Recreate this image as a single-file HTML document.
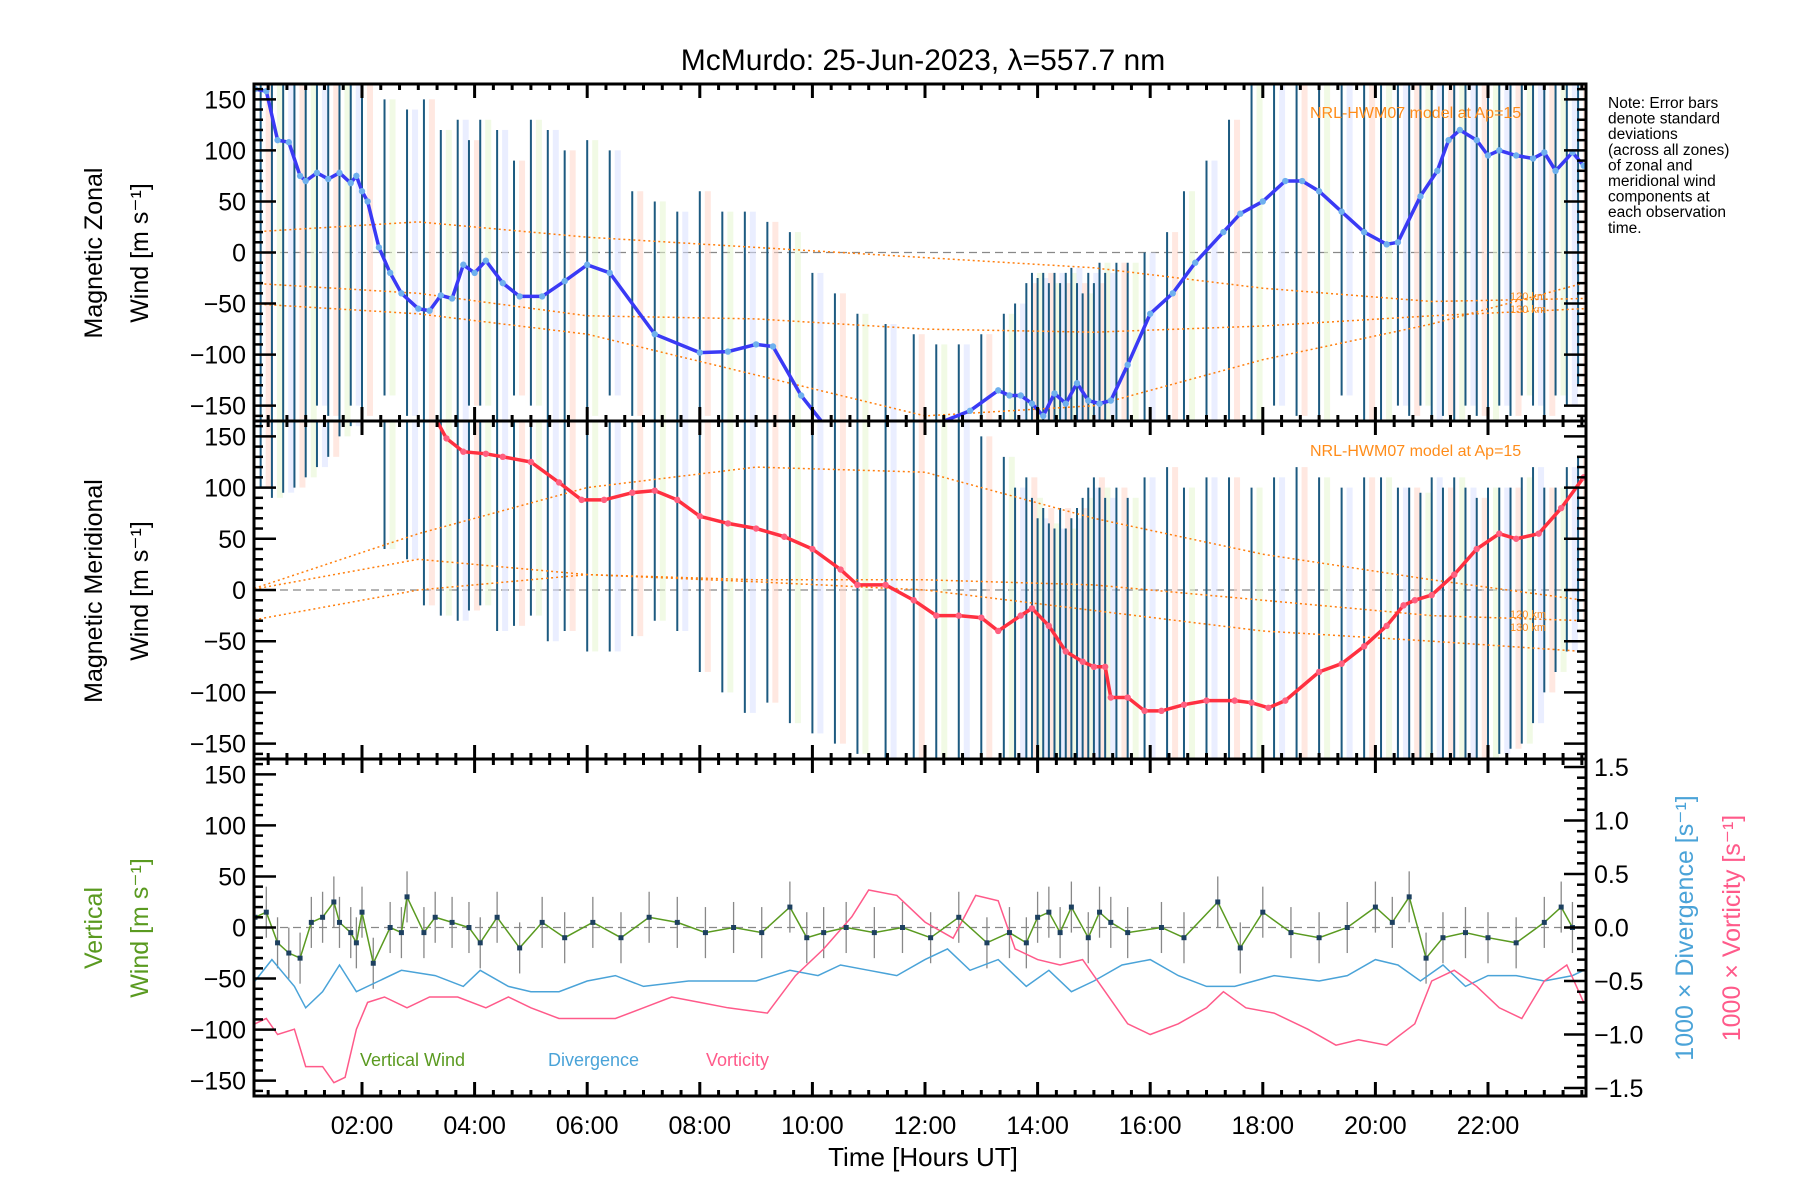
<!DOCTYPE html>
<html><head><meta charset="utf-8"><style>
html,body{margin:0;padding:0;background:#fff}
svg{display:block}
text{font-family:"Liberation Sans",sans-serif}
</style></head><body>
<svg id="chart" width="1800" height="1200" viewBox="0 0 1800 1200" xmlns="http://www.w3.org/2000/svg">
<text x="923" y="70" font-size="30" text-anchor="middle">McMurdo: 25-Jun-2023, λ=557.7 nm</text>
<g id="g"></g>
</svg>
<script>
// ---- data ----
const zonalT=[0.1,0.3,0.5,0.7,0.9,1.0,1.2,1.4,1.6,1.8,1.9,2.0,2.1,2.3,2.5,2.7,3.0,3.2,3.4,3.6,3.8,4.0,4.2,4.5,4.8,5.2,5.6,6.0,6.4,7.2,8.0,8.5,9.0,9.3,9.8,10.2];
const zonalV=[160,158,110,108,75,70,78,72,78,68,75,60,50,5,-20,-40,-55,-57,-42,-45,-12,-20,-8,-30,-43,-43,-28,-12,-20,-80,-98,-97,-90,-92,-140,-168];
const zonalT2=[12.2,12.8,13.3,13.5,13.7,13.9,14.1,14.3,14.5,14.7,14.9,15.1,15.3,15.6,16.0,16.4,16.8,17.3,17.6,18.0,18.4,18.7,19.0,19.4,19.8,20.2,20.4,20.8,21.1,21.3,21.5,21.8,22.0,22.2,22.5,22.8,23.0,23.2,23.5,23.7];
const zonalV2=[-168,-155,-135,-140,-140,-148,-160,-138,-148,-128,-145,-148,-145,-110,-60,-40,-10,20,38,50,70,70,60,40,20,8,10,55,80,110,120,110,95,100,95,92,98,80,98,85];
const meridT=[3.3,3.5,3.8,4.2,4.5,5.0,5.5,5.9,6.3,6.8,7.2,7.6,8.0,8.5,9.0,9.5,10.0,10.5,10.8,11.3,11.8,12.2,12.6,13.0,13.3,13.7,13.9,14.2,14.5,14.8,15.0,15.2,15.3,15.6,15.9,16.2,16.6,17.0,17.5,17.8,18.1,18.4,19.0,19.4,19.8,20.2,20.5,20.7,21.0,21.4,21.8,22.2,22.5,22.9,23.3,23.7];
const meridV=[168,148,135,133,130,125,105,88,88,95,97,88,72,65,60,52,40,20,5,5,-10,-25,-25,-27,-40,-25,-18,-35,-60,-70,-75,-75,-105,-105,-118,-118,-112,-108,-108,-110,-115,-108,-80,-72,-55,-35,-15,-10,-5,15,40,55,50,55,80,110];
const barT=[0.2,0.4,0.6,0.8,1.0,1.2,1.4,1.6,1.8,2.0,2.4,2.8,3.1,3.4,3.7,3.9,4.1,4.4,4.7,5.0,5.3,5.6,6.0,6.4,6.8,7.2,7.6,8.0,8.4,8.8,9.2,9.6,10.0,10.4,10.8,11.3,11.8,12.2,12.6,13.0,13.4,13.6,13.8,13.9,14.0,14.1,14.2,14.3,14.4,14.5,14.6,14.7,14.8,14.9,15.0,15.1,15.2,15.4,15.6,15.9,16.3,16.6,17.0,17.4,17.8,18.2,18.6,19.0,19.4,19.8,20.1,20.4,20.6,20.8,21.0,21.2,21.4,21.6,21.8,22.0,22.2,22.4,22.6,22.8,23.0,23.2,23.4,23.6];
const barZLo=[-170,-170,-170,-170,-170,-150,-160,-170,-150,-160,-140,-160,-165,-170,-165,-150,-150,-170,-140,-150,-170,-165,-160,-140,-160,-165,-170,-160,-170,-170,-165,-170,-170,-170,-170,-170,-170,-170,-170,-170,-170,-170,-170,-170,-170,-170,-170,-170,-170,-170,-170,-170,-170,-170,-170,-170,-170,-170,-170,-170,-170,-170,-170,-170,-170,-150,-160,-170,-140,-170,-170,-150,-160,-150,-165,-160,-170,-150,-160,-170,-150,-160,-140,-150,-160,-140,-150,-130];
const barZHi=[170,170,170,170,170,170,170,170,170,170,150,140,150,120,130,110,130,120,90,130,120,100,110,100,60,50,40,60,40,40,30,20,-20,-40,-60,-70,-80,-90,-90,-80,-60,-50,-30,-20,-25,-20,-30,-20,-30,-20,-15,-30,-40,-20,-30,-10,-20,-10,-10,0,20,60,90,130,170,170,170,170,170,170,170,170,170,170,170,170,170,170,170,170,170,170,170,170,170,170,170,170];
const barMLo=[100,90,95,100,110,120,130,150,160,170,40,30,-15,-25,-30,-20,-15,-40,-35,-25,-50,-40,-60,-60,-45,-30,-40,-80,-100,-120,-110,-130,-140,-150,-160,-170,-170,-170,-170,-170,-170,-170,-170,-170,-170,-170,-170,-170,-170,-170,-170,-170,-170,-170,-170,-170,-170,-170,-170,-170,-170,-170,-170,-170,-170,-170,-170,-170,-170,-170,-170,-170,-170,-170,-170,-170,-170,-170,-170,-170,-160,-155,-150,-130,-100,-80,-60,-30];
const barMHi=[170,170,170,170,170,170,170,170,170,170,170,170,170,170,170,170,170,170,170,170,170,170,170,170,170,170,170,170,170,170,170,170,170,170,170,170,170,170,170,150,130,100,110,90,70,80,65,60,80,60,70,80,90,100,110,100,90,100,90,110,120,100,110,110,100,110,120,110,100,110,110,100,100,95,110,100,110,100,90,100,100,100,110,120,100,100,120,130];
const vertT=[0.1,0.3,0.5,0.7,0.9,1.1,1.3,1.5,1.6,1.8,1.9,2.0,2.2,2.5,2.7,2.8,3.1,3.3,3.6,3.9,4.1,4.4,4.8,5.2,5.6,6.1,6.6,7.1,7.6,8.1,8.6,9.1,9.6,9.9,10.2,10.6,11.1,11.6,12.1,12.6,13.1,13.5,13.8,14.0,14.2,14.4,14.6,14.9,15.1,15.3,15.6,16.2,16.6,17.2,17.6,18.0,18.5,19.0,19.5,20.0,20.3,20.6,20.9,21.2,21.6,22.0,22.5,23.0,23.3,23.5];
const vertV=[10,15,-15,-25,-30,5,10,25,5,-5,-15,15,-35,0,-5,30,-5,10,5,0,-15,10,-20,5,-10,5,-10,10,5,-5,0,-5,20,-10,-5,0,-5,0,-10,10,-15,-5,-15,10,15,-5,20,-10,15,5,-5,0,-10,25,-20,15,-5,-10,0,20,5,30,-30,-10,-5,-10,-15,5,20,0];
const divT=[0.1,0.4,0.8,1.0,1.3,1.6,1.9,2.3,2.7,3.3,3.8,4.1,4.6,5.0,5.5,6.0,6.5,7.0,7.8,8.5,9.0,9.6,10.1,10.5,11.0,11.5,12.0,12.4,12.8,13.3,13.8,14.2,14.6,15.0,15.5,16.0,16.5,17.0,17.5,18.2,19.0,19.5,20.0,20.4,20.8,21.2,21.6,22.0,22.5,23.0,23.5,23.7];
const divV=[-0.5,-0.3,-0.55,-0.75,-0.6,-0.35,-0.6,-0.5,-0.4,-0.45,-0.55,-0.4,-0.55,-0.6,-0.6,-0.5,-0.45,-0.55,-0.5,-0.5,-0.5,-0.4,-0.45,-0.35,-0.4,-0.45,-0.3,-0.2,-0.4,-0.3,-0.55,-0.4,-0.6,-0.5,-0.35,-0.3,-0.45,-0.55,-0.55,-0.45,-0.5,-0.45,-0.3,-0.35,-0.5,-0.35,-0.55,-0.45,-0.45,-0.5,-0.45,-0.4];
const vortT=[0.1,0.3,0.5,0.8,1.0,1.3,1.5,1.7,1.9,2.1,2.4,2.8,3.2,3.7,4.2,4.6,5.0,5.5,6.0,6.5,7.0,7.5,8.0,8.5,9.2,9.7,10.2,10.7,11.0,11.5,12.0,12.5,12.9,13.3,13.6,14.0,14.4,14.8,15.2,15.6,16.0,16.5,17.0,17.3,17.7,18.2,18.8,19.3,19.7,20.2,20.7,21.0,21.4,21.8,22.2,22.6,23.0,23.4,23.7];
const vortV=[-0.9,-0.85,-1.0,-0.95,-1.3,-1.3,-1.45,-1.4,-0.95,-0.7,-0.65,-0.75,-0.65,-0.65,-0.75,-0.65,-0.75,-0.85,-0.85,-0.85,-0.75,-0.65,-0.7,-0.75,-0.8,-0.45,-0.2,0.1,0.35,0.3,0.05,-0.1,0.3,0.25,-0.2,-0.3,-0.35,-0.3,-0.6,-0.9,-1.0,-0.9,-0.75,-0.6,-0.75,-0.8,-0.95,-1.1,-1.05,-1.1,-0.9,-0.5,-0.4,-0.55,-0.75,-0.85,-0.5,-0.35,-0.7];
const modelT=[0,3,6,9,12,15,18,21,23.7];
const modelZ1=[20,30,15,5,-5,-15,-35,-48,-45];
const modelZ2=[-30,-40,-62,-65,-75,-78,-72,-62,-55];
const modelZ3=[-50,-60,-80,-120,-160,-150,-105,-70,-30];
const modelM1=[0,55,100,120,115,70,35,10,-10];
const modelM2=[0,30,15,10,10,5,-10,-25,-30];
const modelM3=[-30,0,15,8,0,-20,-40,-50,-60];
const windTicks=[-150,-100,-50,0,50,100,150];
const ratioTicks=[-1.5,-1.0,-0.5,0.0,0.5,1.0,1.5];
const timeTicks=[2,4,6,8,10,12,14,16,18,20,22];

// ---- layout ----
const L=254,R=1586,T0=84,T1=421,T2=759,T3=1096;
const NS="http://www.w3.org/2000/svg";
const g=document.getElementById('g');
function mk(tag,attrs,parent){const e=document.createElementNS(NS,tag);for(const k in attrs)e.setAttribute(k,attrs[k]);(parent||g).appendChild(e);return e;}
const x=t=>249.4+56.3*t;
function yW(top,bot){const c=(top+bot)/2,s=(bot-top)/330;return v=>c-v*s;}
const y1=yW(T0,T1),y2=yW(T1,T2),y3=yW(T2,T3);
const y3r=v=>(T2+T3)/2-v*(160.5/1.5);
function clipY(v){return Math.max(-166,Math.min(166,v));}

const defs=mk('defs',{});
[[T0,T1,'c1'],[T1,T2,'c2'],[T2,T3,'c3']].forEach(([a,b,id])=>{const cp=mk('clipPath',{id:id},defs);mk('rect',{x:L,y:a,width:R-L,height:b-a},cp);});

function panel(yf,clip,lo,hi,modelArrs,line,name){
  const pg=mk('g',{'clip-path':'url(#'+clip+')'});
  
  
  const z=mk('line',{x1:L,x2:R,y1:yf(0),y2:yf(0),stroke:'#888','stroke-dasharray':'8,5','stroke-width':1.2},pg);
  
  
  barT.forEach((t,i)=>{
    const r=mk('rect',{x:x(t)+5,y:yf(Math.min(hi[i],165)),width:6,height:Math.max(0,yf(Math.max(lo[i],-165))-yf(Math.min(hi[i],165))),fill:i%3==0?'#ffd6c8':(i%3==1?'#e6f5d0':'#d8e0ff'),opacity:0.55},pg);
    
    
  });
  barT.forEach((t,i)=>{
    const e=mk('line',{x1:x(t),x2:x(t),y1:yf(clipY(lo[i])),y2:yf(clipY(hi[i])),stroke:'#1d5a80','stroke-width':2},pg);
    
    
  });
  modelArrs.forEach(arr=>{
    const d=modelT.map((t,i)=>(i?'L':'M')+x(t).toFixed(1)+','+yf(arr[i]).toFixed(1)).join('');
    const p=mk('path',{d:d,fill:'none',stroke:'#ff7f0e','stroke-width':1.5,'stroke-dasharray':'2,3'},pg);
    
    
  });
  line.forEach(([ts,vs,col,pcol])=>{
    const d=ts.map((t,i)=>(i?'L':'M')+x(t).toFixed(1)+','+yf(vs[i]).toFixed(1)).join('');
    const p=mk('path',{d:d,fill:'none',stroke:col,'stroke-width':3.5},pg);
    
    
    ts.forEach((t,i)=>{const c=mk('circle',{cx:x(t),cy:yf(vs[i]),r:3.2,fill:pcol},pg);
      
      });
  });
}
panel(y1,'c1',barZLo,barZHi,[modelZ1,modelZ2,modelZ3],[[zonalT,zonalV,'#3a3af5','#6fb0ee'],[zonalT2,zonalV2,'#3a3af5','#6fb0ee']],'zonal');
panel(y2,'c2',barMLo,barMHi,[modelM1,modelM2,modelM3],[[meridT,meridV,'#ff3040','#ff6080']],'meridional');

const bg=mk('g',{'clip-path':'url(#c3)'});


const z3=mk('line',{x1:L,x2:R,y1:y3(0),y2:y3(0),stroke:'#888','stroke-dasharray':'8,5','stroke-width':1.2},bg);


vertT.forEach((t,i)=>{const e=mk('line',{x1:x(t),x2:x(t),y1:y3(vertV[i]-25),y2:y3(vertV[i]+25),stroke:'#888','stroke-width':1.3},bg);
  
  });
function polyl(ts,vs,yf,col,name){const d=ts.map((t,i)=>(i?'L':'M')+x(t).toFixed(1)+','+yf(vs[i]).toFixed(1)).join('');
  const p=mk('path',{d:d,fill:'none',stroke:col,'stroke-width':1.5},bg);
  
  }
polyl(divT,divV,y3r,'#4aa3d8','divergence-line');
polyl(vortT,vortV,y3r,'#ff5a8a','vorticity-line');
polyl(vertT,vertV,y3,'#5a9a20','vertical-wind-line');
vertT.forEach((t,i)=>{const c=mk('rect',{x:x(t)-2.5,y:y3(vertV[i])-2.5,width:5,height:5,fill:'#1d4060'},bg);
  
  });

[[T0,T1],[T1,T2],[T2,T3]].forEach(([a,b],pi)=>{
  const f=mk('rect',{x:L,y:a,width:R-L,height:b-a,fill:'none',stroke:'#000','stroke-width':3});
  
  
  const yf=[y1,y2,y3][pi];
  for(let v=-160;v<=160;v+=10){const maj=v%50==0;const len=maj?22:9;
    const t=mk('line',{x1:L,x2:L+len,y1:yf(v),y2:yf(v),stroke:'#000','stroke-width':2.5});
    
    if(pi<2){const t2=mk('line',{x1:R,x2:R-len,y1:yf(v),y2:yf(v),stroke:'#000','stroke-width':2.5});
    }}
  windTicks.forEach(v=>{const tx=mk('text',{x:L-8,y:yf(v)+9,'font-size':25,'text-anchor':'end'});tx.textContent=(v<0?'\u2212'+(-v):v);
    });
  for(let h=0.333;h<23.8;h+=1/3){const hh=Math.round(h*3)/3;if(x(hh)<L||x(hh)>R)continue;const maj=Math.abs(hh-Math.round(hh))<0.01&&Math.round(hh)%2==0;const len=maj?14:6;
    [[a,a+len],[b,b-len]].forEach(([p,q])=>{const t=mk('line',{x1:x(hh),x2:x(hh),y1:p,y2:q,stroke:'#000','stroke-width':3});
      });}
});
for(let v=-1.5;v<=1.51;v+=0.1){const maj=Math.abs(v*2-Math.round(v*2))<0.01;const len=maj?22:9;
  const t=mk('line',{x1:R,x2:R-len,y1:y3r(v),y2:y3r(v),stroke:'#000','stroke-width':2.5});
  }
ratioTicks.forEach(v=>{const tx=mk('text',{x:R+8,y:y3r(v)+9,'font-size':25});tx.textContent=(v<0?'\u2212':'')+Math.abs(v).toFixed(1);
  });
timeTicks.forEach(h=>{const tx=mk('text',{x:x(h),y:1134,'font-size':25,'text-anchor':'middle'});tx.textContent=(h<10?'0':'')+h+':00';
  });

function txt(s,attrs,name){const e=mk('text',attrs);e.textContent=s;return e;}
txt('Time [Hours UT]',{x:923,y:1166,'font-size':26,'text-anchor':'middle'},'x-axis-title');
txt('Magnetic Zonal',{x:0,y:0,'font-size':25,'text-anchor':'middle',transform:'translate(102,253) rotate(-90)'},'zonal-y-axis-title');
txt('Wind [m s\u207B\u00B9]',{x:0,y:0,'font-size':25,'text-anchor':'middle',transform:'translate(148,253) rotate(-90)'},'zonal-y-axis-units');
txt('Magnetic Meridional',{x:0,y:0,'font-size':25,'text-anchor':'middle',transform:'translate(102,591) rotate(-90)'},'meridional-y-axis-title');
txt('Wind [m s\u207B\u00B9]',{x:0,y:0,'font-size':25,'text-anchor':'middle',transform:'translate(148,591) rotate(-90)'},'meridional-y-axis-units');
txt('Vertical',{x:0,y:0,'font-size':25,'text-anchor':'middle',fill:'#5a9a20',transform:'translate(102,928) rotate(-90)'},'vertical-y-axis-title');
txt('Wind [m s\u207B\u00B9]',{x:0,y:0,'font-size':25,'text-anchor':'middle',fill:'#5a9a20',transform:'translate(148,928) rotate(-90)'},'vertical-y-axis-units');
txt('1000 \u00D7 Divergence [s\u207B\u00B9]',{x:0,y:0,'font-size':25,'text-anchor':'middle',fill:'#4aa3d8',transform:'translate(1693,928) rotate(-90)'},'divergence-axis-title');
txt('1000 \u00D7 Vorticity [s\u207B\u00B9]',{x:0,y:0,'font-size':25,'text-anchor':'middle',fill:'#ff5a8a',transform:'translate(1740,928) rotate(-90)'},'vorticity-axis-title');
txt('Vertical Wind',{x:360,y:1066,'font-size':18,fill:'#5a9a20'},'legend-vertical-wind');
txt('Divergence',{x:548,y:1066,'font-size':18,fill:'#4aa3d8'},'legend-divergence');
txt('Vorticity',{x:706,y:1066,'font-size':18,fill:'#ff5a8a'},'legend-vorticity');
txt('NRL-HWM07 model at Ap=15',{x:1310,y:118,'font-size':16,fill:'#ff8c1a'},'model-label-zonal');
txt('NRL-HWM07 model at Ap=15',{x:1310,y:456,'font-size':16,fill:'#ff8c1a'},'model-label-meridional');
[[300,'120 km'],[313,'130 km'],[618,'120 km'],[631,'130 km']].forEach(([yy,s])=>txt(s,{x:1510,y:yy,'font-size':11,fill:'#ff8c1a'},'altitude-label'));
['Note: Error bars','denote standard','deviations','(across all zones)','of zonal and','meridional wind','components at','each observation','time.'].forEach((s,i)=>txt(s,{x:1608,y:108+i*15.6,'font-size':15.5},'note-line'));
</script>
</body></html>
